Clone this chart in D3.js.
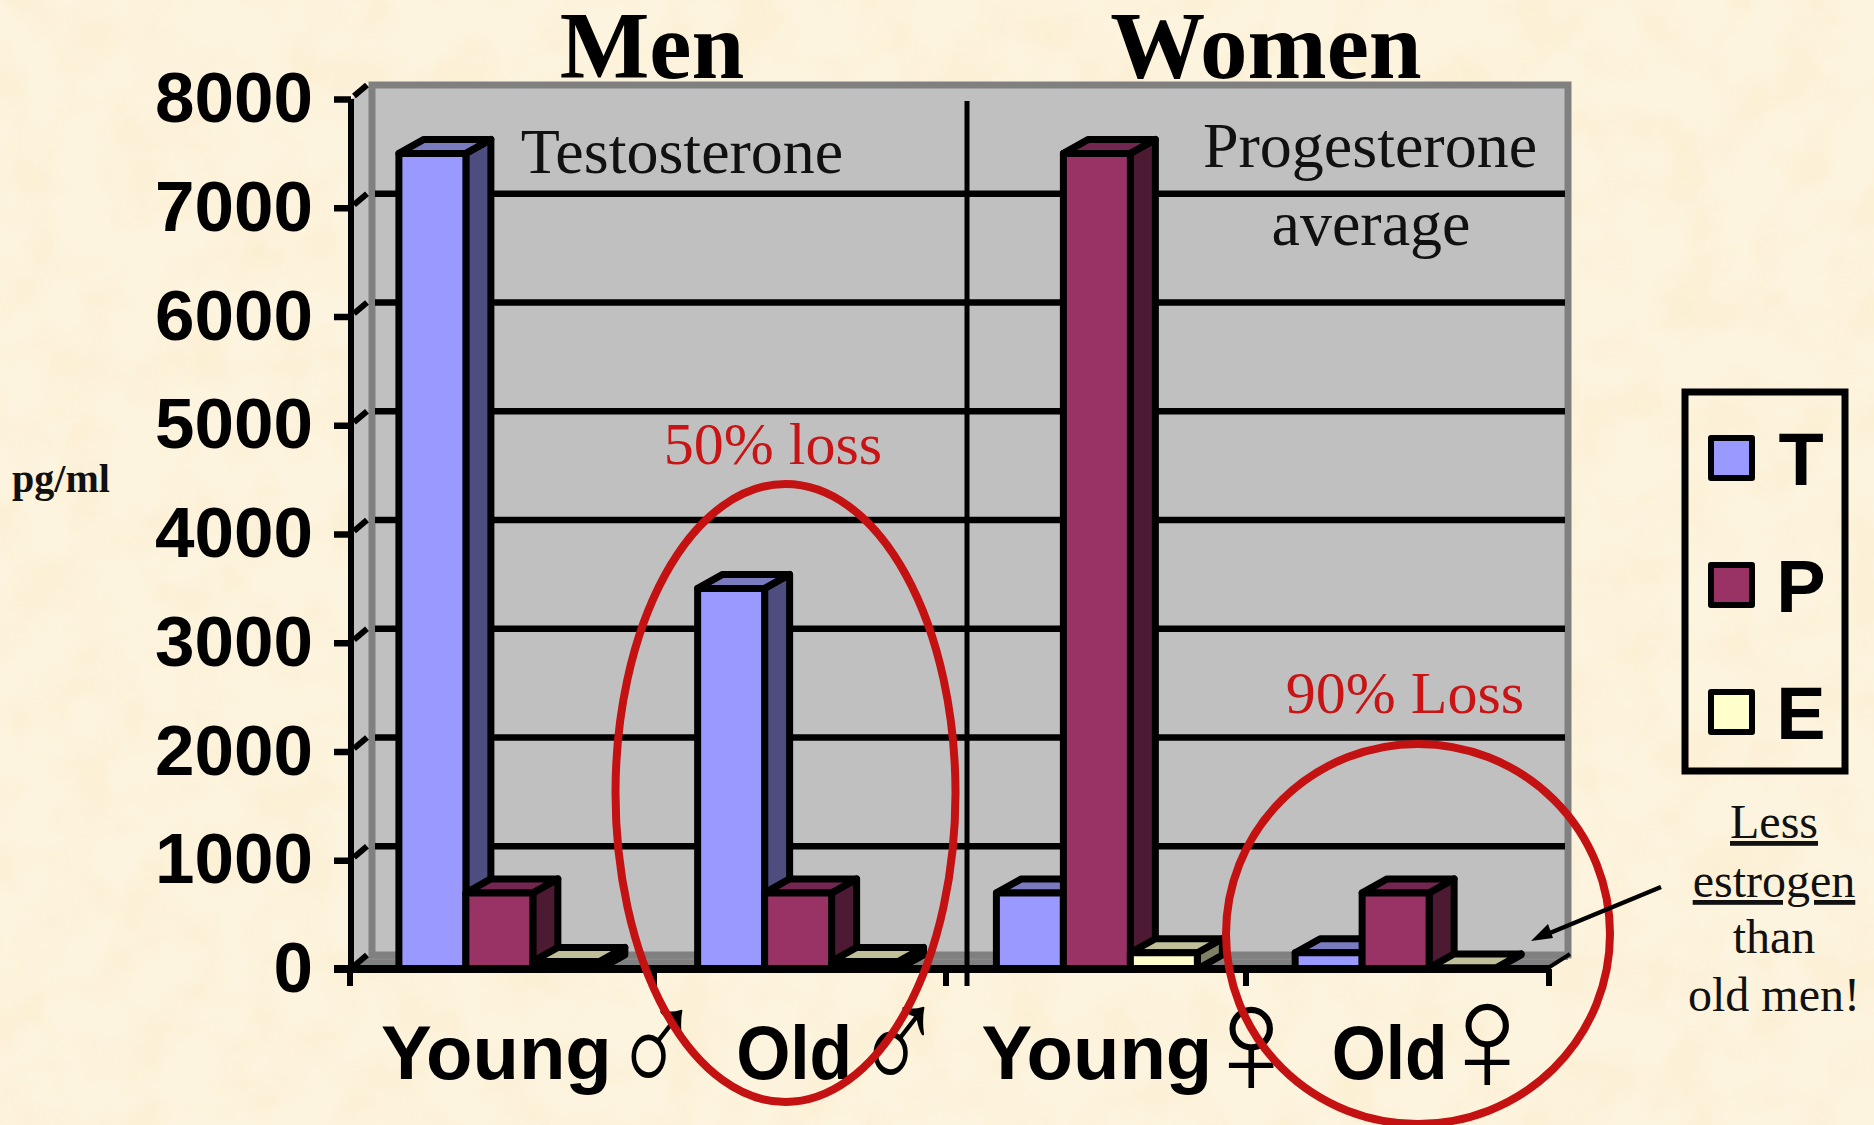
<!DOCTYPE html>
<html><head><meta charset="utf-8">
<script src="https://cdn.jsdelivr.net/npm/d3@7/dist/d3.min.js"></script>
<style>html,body{margin:0;padding:0;background:#fdf3dd;overflow:hidden}svg{display:block}
.ser{font-family:"Liberation Serif",serif}.san{font-family:"Liberation Sans",Arial,sans-serif;font-weight:700}</style>
</head><body><script>
const categories=["Young","Old","Young ","Old "];
const genderSymbols=["♂","♂","♀","♀"];
const seriesNames=["T","P","E"];
const testosterone=[7500,3500,700,150];
const progesterone=[700,700,7500,700];
const estrogen=[70,70,150,10];
const yTicks=[0,1000,2000,3000,4000,5000,6000,7000,8000];
const seriesValues=[testosterone,progesterone,estrogen];
const frontColors=["#9999ff","#993366","#ffffcc"];
const sideColors=["#4d4d80","#4d1a33","#808066"];
const topColors=["#7a7abf","#732650","#bfbf99"];

const W=1874,H=1125;
const svg=d3.select("body").append("svg").attr("width",W).attr("height",H).attr("viewBox",`0 0 ${W} ${H}`);
const defs=svg.append("defs");
const f=defs.append("filter").attr("id","paper").attr("x",0).attr("y",0).attr("width","100%").attr("height","100%").attr("color-interpolation-filters","sRGB");
f.append("feTurbulence").attr("type","fractalNoise").attr("baseFrequency",0.018).attr("numOctaves",4).attr("seed",7);
f.append("feColorMatrix").attr("values","0 0 0 0 0.97  0 0 0 0 0.89  0 0 0 0 0.70  0 0 0 2 -0.8");
svg.append("rect").attr("width",W).attr("height",H).attr("fill","#fdf4df");
svg.append("rect").attr("width",W).attr("height",H).attr("filter","url(#paper)").attr("opacity",0.28);

const axisX=351,wallDx=21,wallDy=14,barDx=25,barDy=14,K="#000",SW=7;
const y=d3.scaleLinear().domain([0,8000]).range([969,99]);
const x0=d3.scaleBand().domain(categories).range([350,1545]);
const x1=d3.scaleBand().domain(seriesNames).range([0,x0.bandwidth()]).paddingOuter(0.73);
const poly=(g,pts,fill,sw=SW,st=K)=>g.append("polygon").attr("points",pts.map(p=>p.join(",")).join(" ")).attr("fill",fill).attr("stroke",st).attr("stroke-width",sw).attr("stroke-linejoin","round");

// walls and floor
const wallL=axisX+wallDx, wallR=1568, wallT=y(8000)-wallDy, wallB=y(0)-wallDy;
poly(svg,[[axisX,y(8000)],[wallL,wallT],[wallL,wallB],[axisX,y(0)]],"#c0c0c0",0,"none");
svg.append("rect").attr("x",wallL).attr("y",wallT).attr("width",wallR-wallL).attr("height",wallB-wallT).attr("fill","#c0c0c0");
poly(svg,[[axisX,y(0)],[wallL,wallB],[wallR+3,wallB],[1548,y(0)]],"#808080",0,"none");
svg.append("line").attr("x1",wallL).attr("x2",wallR).attr("y1",wallB-1).attr("y2",wallB-1).attr("stroke","#666").attr("stroke-width",2);
svg.append("line").attr("x1",wallL-8).attr("x2",wallR).attr("y1",wallB+4).attr("y2",wallB+4).attr("stroke","#8a8a8a").attr("stroke-width",2);
svg.append("rect").attr("x",wallL).attr("y",wallT).attr("width",wallR-wallL).attr("height",wallB-wallT).attr("fill","none").attr("stroke","#808080").attr("stroke-width",7);

// gridlines and wall stubs
const inner=yTicks.filter(t=>t>0&&t<8000);
svg.append("g").selectAll("line").data(inner).join("line")
 .attr("x1",wallL+3).attr("x2",wallR-3).attr("y1",d=>y(d)-wallDy).attr("y2",d=>y(d)-wallDy).attr("stroke",K).attr("stroke-width",SW-0.5);
svg.append("g").selectAll("line").data(yTicks).join("line")
 .attr("x1",axisX+3).attr("x2",axisX+16).attr("y1",d=>y(d)-3).attr("y2",d=>y(d)-14).attr("stroke",K).attr("stroke-width",6);

// annotations on the wall
const serif=(t,xx,yy,size,anchor="middle",fill="#111",weight=400)=>svg.append("text").attr("class","ser").attr("x",xx).attr("y",yy).attr("font-size",size).attr("text-anchor",anchor).attr("fill",fill).attr("font-weight",weight).text(t);
serif("Testosterone",682,173,64);
serif("Progesterone",1370,167,64);
serif("average",1371,245,64);
svg.append("line").attr("x1",967).attr("x2",967).attr("y1",101).attr("y2",986).attr("stroke",K).attr("stroke-width",5);

// bars
categories.forEach((c,ci)=>{
 const g=svg.append("g");
 seriesNames.forEach((s,si)=>{
  const v=seriesValues[si][ci],xl=x0(c)+x1(s),w=x1.bandwidth(),yt=y(v),yb=y(0);
  poly(g,[[xl+w,yt],[xl+w+barDx,yt-barDy],[xl+w+barDx,yb-barDy],[xl+w,yb]],sideColors[si]);
  poly(g,[[xl,yt],[xl+barDx,yt-barDy],[xl+w+barDx,yt-barDy],[xl+w,yt]],topColors[si]);
  poly(g,[[xl,yt],[xl+w,yt],[xl+w,yb],[xl,yb]],frontColors[si]);
 });
});

// axes
const yAxis=d3.axisLeft(y).tickValues(yTicks).tickFormat(d3.format("d")).tickSize(17).tickPadding(21);
const ya=svg.append("g").attr("transform",`translate(${axisX},0)`).call(yAxis);
ya.selectAll("path").attr("stroke",K).attr("stroke-width",SW-1).attr("d",`M0,${y(8000)}V${y(0)}`);
ya.selectAll("line").attr("stroke",K).attr("stroke-width",SW-0.5);
ya.selectAll("text").attr("class","san").attr("font-size",71).attr("fill",K).attr("dy","0.32em").style("font-family",'"Liberation Sans",Arial,sans-serif').style("font-weight",700);
svg.append("line").attr("x1",334).attr("x2",1551).attr("y1",y(0)).attr("y2",y(0)).attr("stroke",K).attr("stroke-width",8);
const tickXs=[350,654,946,1246,1549];
svg.append("g").selectAll("line").data(tickXs).join("line").attr("x1",d=>d).attr("x2",d=>d).attr("y1",y(0)).attr("y2",986).attr("stroke",K).attr("stroke-width",6);
svg.append("line").attr("x1",1548).attr("x2",1570).attr("y1",y(0)-1).attr("y2",954).attr("stroke",K).attr("stroke-width",4);

// category labels with sex symbols
const labelShift=[-3,-4,0,-6];
svg.append("g").selectAll("text").data(categories).join("text").attr("class","san")
 .attr("x",(d,i)=>x0(d)+x0.bandwidth()/2+labelShift[i]).attr("y",1079).attr("text-anchor","middle").attr("font-size",76)
 .attr("textLength",d=>d.trim()==="Old"?116:null).attr("lengthAdjust","spacingAndGlyphs").text(d=>d.trim());
const symX=[657,899,1251,1487],symY=[1097,1094,1094,1091],symSx=[0.78,0.78,1,1];
svg.append("g").selectAll("text").data(genderSymbols).join("text")
 .attr("transform",(d,i)=>`translate(${symX[i]},${symY[i]}) scale(${symSx[i]},1)`).attr("text-anchor","middle").attr("font-size",155).attr("fill",K)
 .style("font-family",'"Liberation Serif"').text(d=>d);

// titles
svg.append("text").attr("class","ser").attr("x",652).attr("y",78).attr("text-anchor","middle").attr("font-size",95).attr("font-weight",700).text("Men");
svg.append("text").attr("class","ser").attr("x",1266).attr("y",78).attr("text-anchor","middle").attr("font-size",95).attr("font-weight",700).text("Women");
serif("pg/ml",61,492,40,"middle","#111",700);
serif("50% loss",773,464,60,"middle","#c81414");
serif("90% Loss",1405,713,60,"middle","#c81414");

// legend
svg.append("rect").attr("x",1685).attr("y",392).attr("width",160).attr("height",379).attr("fill","none").attr("stroke",K).attr("stroke-width",7);
const legY=d3.scalePoint().domain(seriesNames).range([458,712]);
const lg=svg.append("g").selectAll("g").data(seriesNames).join("g");
lg.append("rect").attr("x",1711).attr("y",d=>legY(d)-20).attr("width",41).attr("height",40).attr("fill",(d,i)=>frontColors[i]).attr("stroke",K).attr("stroke-width",6).attr("stroke-linejoin","round");
lg.append("text").attr("class","san").attr("x",1801).attr("y",d=>legY(d)+27).attr("text-anchor","middle").attr("font-size",74).text(d=>d);

// side note
[["Less",838,true],["estrogen",897,true],["than",953,false],["old men!",1011,false]].forEach(([t,yy,u])=>{
 serif(t,1774,yy,48).attr("text-decoration",u?"underline":null);
});

// red ellipses
svg.append("ellipse").attr("cx",785.5).attr("cy",793).attr("rx",170).attr("ry",309).attr("fill","none").attr("stroke","#c41212").attr("stroke-width",8);
svg.append("ellipse").attr("cx",1418).attr("cy",934).attr("rx",192).attr("ry",190).attr("fill","none").attr("stroke","#c41212").attr("stroke-width",8);

// arrow
svg.append("line").attr("x1",1661).attr("y1",887).attr("x2",1545).attr("y2",935).attr("stroke",K).attr("stroke-width",4.5);
svg.append("polygon").attr("points","1531,941 1548,924 1553,938").attr("fill",K);
</script></body></html>
